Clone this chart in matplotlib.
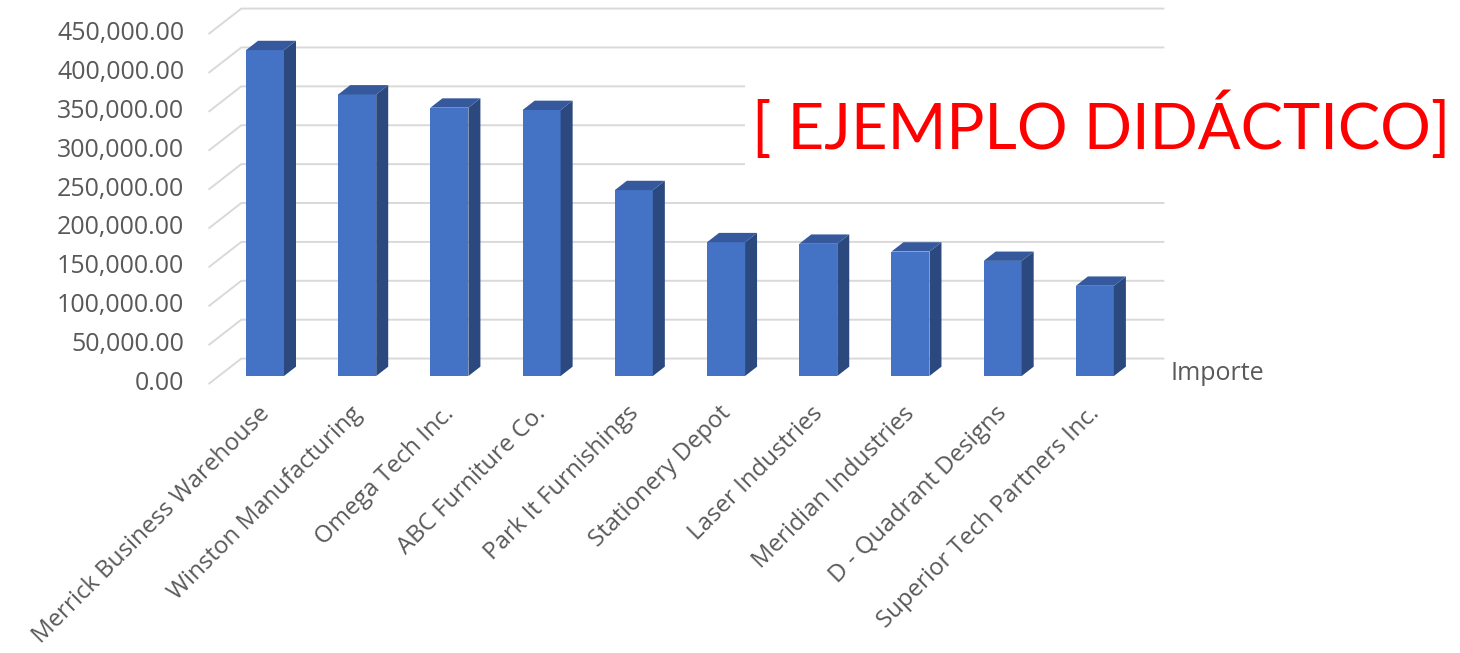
import matplotlib
matplotlib.use("Agg")
import matplotlib.pyplot as plt
from matplotlib.patches import Polygon, Rectangle

# Importe por cliente
clientes = [
    "Merrick Business Warehouse",
    "Winston Manufacturing",
    "Omega Tech Inc.",
    "ABC Furniture Co.",
    "Park It Furnishings",
    "Stationery Depot",
    "Laser Industries",
    "Meridian Industries",
    "D - Quadrant Designs",
    "Superior Tech Partners Inc.",
]
importe = [419000, 362000, 345000, 342000, 239000, 172000, 170000, 160000, 148000, 116000]
y_ticks = list(range(0, 450001, 50000))
serie = "Importe"
titulo = "[ EJEMPLO DIDÁCTICO]"

FRONT = "#4472C4"
SIDE = "#2B497E"
TOP = "#35599C"
GRID = "#D9D9D9"
TEXT = "#595959"
FONT = "Open Sans"

# oblique 3D: one unit of depth moves a point this far in data units
DX, DY = 0.347, 32000
D_FRONT, D_BACK = -0.3, 0.7      # floor front edge / back wall, relative to bar faces
BAR_W, BAR_D = 0.412, 0.375

W, H = 1460, 653
fig = plt.figure(figsize=(W / 100, H / 100), dpi=100)
fig.patch.set_facecolor("white")
# axes box = bar front plane, categories -0.5..9.5, values 0..450k
ax = fig.add_axes([218.9 / W, (H - 376) / H, 922.1 / W, 350 / H])
ax.set_xlim(-0.5, 9.5)
ax.set_ylim(0, 450000)
ax.axis("off")


def shift(x, y, d):
    return (x + d * DX, y + d * DY)


# back wall and side wall gridlines
for v in y_ticks:
    x0, y0 = shift(-0.5, v, D_FRONT)
    x1, y1 = shift(-0.5, v, D_BACK)
    x2, y2 = shift(9.5, v, D_BACK)
    ax.plot([x0, x1, x2], [y0, y1, y2], color=GRID, lw=1.4, zorder=1,
            clip_on=False, solid_joinstyle="miter")
    ax.text(x0 - 0.27, y0, f"{v:,.2f}", ha="right", va="center",
            fontsize=18, color=TEXT, family=FONT, clip_on=False)

# bars: front, side, top faces
for i, v in enumerate(importe):
    l, r = i - BAR_W / 2, i + BAR_W / 2
    front = Rectangle((l, 0), BAR_W, v, facecolor=FRONT, edgecolor="none", zorder=3)
    side = Polygon([(r, 0), shift(r, 0, BAR_D), shift(r, v, BAR_D), (r, v)],
                   closed=True, facecolor=SIDE, edgecolor="none", zorder=3)
    top = Polygon([(l, v), (r, v), shift(r, v, BAR_D), shift(l, v, BAR_D)],
                  closed=True, facecolor=TOP, edgecolor="none", zorder=3)
    for p in (front, side, top):
        p.set_clip_on(False)
        ax.add_patch(p)

# category labels
for i, name in enumerate(clientes):
    ax.text(i - 0.08, -33000, name, rotation=45, rotation_mode="anchor",
            ha="right", va="top", fontsize=17.3, color=TEXT, family=FONT,
            clip_on=False)

ax.text(9.82, 3000, serie, ha="left", va="center", fontsize=18,
        color=TEXT, family=FONT, clip_on=False)

# white label box with the red caption
fig.add_artist(Rectangle((745 / W, (H - 183) / H), (W - 745) / W, 98 / H,
                         transform=fig.transFigure, facecolor="white",
                         edgecolor="none", zorder=5))
fig.text(752 / W, (H - 149) / H, titulo, ha="left", va="baseline",
         fontsize=45.6, color="#FF0000", family="Lato", zorder=6)

fig.savefig("out.png", dpi=100, facecolor="white")
